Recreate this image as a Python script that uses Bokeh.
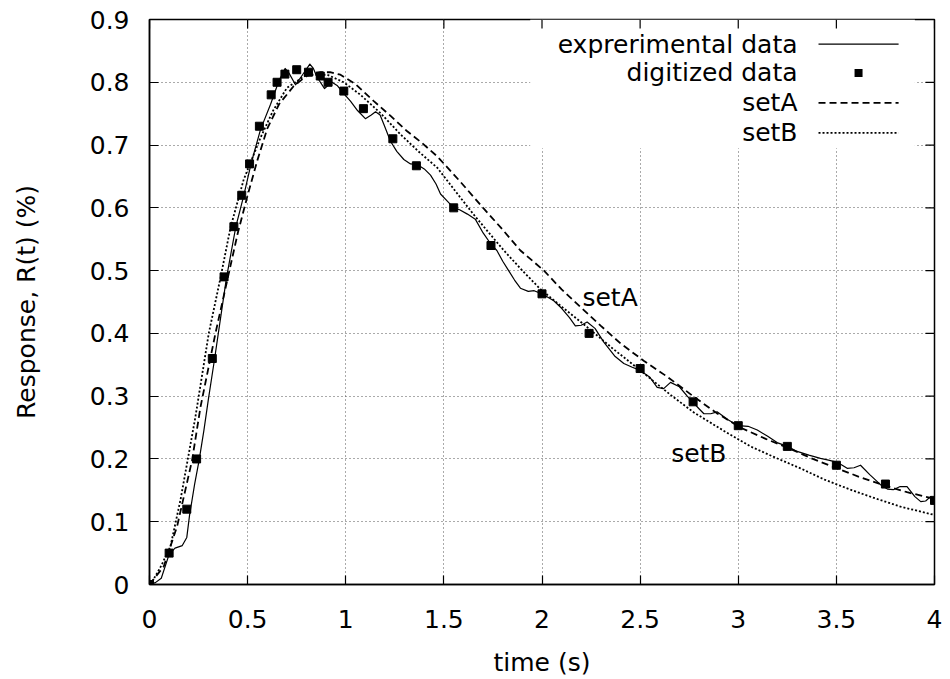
from bokeh.plotting import figure
from bokeh.models import Range1d, Label, BoxAnnotation, Arrow, FixedTicker
from bokeh.embed import file_html
from bokeh.resources import INLINE

# ---------------- data ----------------
x_ticks = [0, 0.5, 1, 1.5, 2, 2.5, 3, 3.5, 4]
x_tick_labels = ["0", "0.5", "1", "1.5", "2", "2.5", "3", "3.5", "4"]
y_ticks = [0, 0.1, 0.2, 0.3, 0.4, 0.5, 0.6, 0.7, 0.8, 0.9]
y_tick_labels = ["0", "0.1", "0.2", "0.3", "0.4", "0.5", "0.6", "0.7", "0.8", "0.9"]

exp_t = [0.00, 0.03, 0.06, 0.10, 0.13, 0.167, 0.19, 0.204, 0.23, 0.253, 0.277, 0.30, 0.331,
         0.36, 0.392, 0.44, 0.48, 0.518, 0.566, 0.617, 0.659, 0.68, 0.691, 0.71, 0.744,
         0.78, 0.817, 0.835, 0.854, 0.892, 0.91, 0.93, 0.956, 0.99, 1.024, 1.06, 1.10, 1.13,
         1.152, 1.175, 1.194, 1.228, 1.26, 1.296, 1.33, 1.364, 1.40, 1.432, 1.46, 1.483, 1.52,
         1.55, 1.58, 1.62, 1.66, 1.70, 1.74, 1.77, 1.80, 1.83, 1.86, 1.89, 1.93, 1.96, 2.00,
         2.06, 2.10, 2.14, 2.17, 2.20, 2.23, 2.27, 2.315, 2.37, 2.417, 2.46, 2.50, 2.55,
         2.587, 2.62, 2.655, 2.70, 2.74, 2.77, 2.80, 2.825, 2.86, 2.892, 2.95, 3.00, 3.05,
         3.097, 3.15, 3.198, 3.25, 3.30, 3.36, 3.419, 3.46, 3.50, 3.53, 3.555, 3.59, 3.623,
         3.67, 3.725, 3.76, 3.79, 3.825, 3.86, 3.90, 3.93, 3.955, 3.98, 4.00]
exp_r = [0.000, 0.003, 0.010, 0.048, 0.058, 0.062, 0.075, 0.110, 0.160, 0.198, 0.245, 0.295,
         0.358, 0.420, 0.488, 0.570, 0.619, 0.671, 0.725, 0.765, 0.802, 0.815, 0.822, 0.815,
         0.796, 0.812, 0.829, 0.822, 0.808, 0.790, 0.795, 0.800, 0.795, 0.782, 0.770, 0.755,
         0.742, 0.748, 0.753, 0.748, 0.733, 0.706, 0.690, 0.677, 0.670, 0.669, 0.662, 0.652,
         0.638, 0.622, 0.610, 0.600, 0.597, 0.590, 0.582, 0.560, 0.542, 0.532, 0.515, 0.500,
         0.485, 0.472, 0.467, 0.468, 0.463, 0.452, 0.440, 0.425, 0.412, 0.413, 0.418, 0.408,
         0.386, 0.364, 0.352, 0.346, 0.341, 0.330, 0.314, 0.312, 0.322, 0.315, 0.300, 0.290,
         0.280, 0.272, 0.272, 0.275, 0.262, 0.253, 0.252, 0.246, 0.236, 0.226, 0.220, 0.212,
         0.206, 0.201, 0.198, 0.195, 0.190, 0.185, 0.186, 0.190, 0.175, 0.159, 0.152, 0.151,
         0.156, 0.156, 0.140, 0.132, 0.133, 0.140, 0.136]

dig_t = [0, 0.10, 0.19, 0.24, 0.32, 0.38, 0.43, 0.47, 0.51, 0.56, 0.62, 0.65, 0.69, 0.75,
         0.81, 0.87, 0.91, 0.99, 1.09, 1.24, 1.36, 1.55, 1.74, 2.00, 2.24, 2.50, 2.77, 3.00,
         3.25, 3.50, 3.75, 4.00]
dig_r = [0, 0.05, 0.12, 0.20, 0.36, 0.49, 0.57, 0.62, 0.67, 0.73, 0.78, 0.80, 0.813, 0.82,
         0.816, 0.81, 0.80, 0.786, 0.758, 0.71, 0.667, 0.60, 0.54, 0.463, 0.40, 0.344, 0.291,
         0.253, 0.22, 0.19, 0.16, 0.134]

setA_t = [0, 0.073, 0.141, 0.217, 0.26, 0.336, 0.40, 0.45, 0.50, 0.55, 0.60, 0.66, 0.735,
          0.80, 0.871, 0.92, 0.973, 1.05, 1.143, 1.23, 1.313, 1.39, 1.466, 1.58, 1.70, 1.80,
          1.89, 2.01, 2.10, 2.196, 2.30, 2.40, 2.52, 2.638, 2.77, 2.89, 3.011, 3.14, 3.266,
          3.38, 3.504, 3.62, 3.742, 3.86, 3.98, 4.00]
setA_r = [0, 0.029, 0.093, 0.198, 0.283, 0.40, 0.49, 0.56, 0.62, 0.676, 0.726, 0.765, 0.794,
          0.810, 0.816, 0.816, 0.812, 0.797, 0.770, 0.746, 0.722, 0.703, 0.682, 0.643, 0.600,
          0.565, 0.532, 0.500, 0.470, 0.442, 0.412, 0.384, 0.356, 0.331, 0.300, 0.273, 0.250,
          0.232, 0.216, 0.200, 0.185, 0.171, 0.158, 0.147, 0.138, 0.136]

setB_t = [0, 0.02, 0.06, 0.107, 0.158, 0.234, 0.302, 0.362, 0.413, 0.48, 0.566, 0.63, 0.70,
          0.80, 0.906, 0.99, 1.075, 1.18, 1.279, 1.37, 1.466, 1.56, 1.65, 1.73, 1.806, 1.90,
          1.99, 2.11, 2.23, 2.36, 2.485, 2.655, 2.774, 2.92, 3.062, 3.19, 3.317, 3.44, 3.572,
          3.70, 3.827, 3.997]
setB_r = [0, 0.008, 0.030, 0.061, 0.135, 0.267, 0.40, 0.489, 0.569, 0.645, 0.712, 0.755, 0.791,
          0.812, 0.812, 0.800, 0.780, 0.750, 0.717, 0.690, 0.664, 0.626, 0.590, 0.560, 0.532,
          0.500, 0.471, 0.440, 0.410, 0.376, 0.345, 0.302, 0.274, 0.246, 0.220, 0.202, 0.185,
          0.167, 0.151, 0.137, 0.124, 0.111]

legend_labels = ["exprerimental data", "digitized data", "setA", "setB"]

FONT = "DejaVu Sans"
FS = "25px"

X0, X1, Y0, Y1 = 0, 4, 0, 0.9
p = figure(width=950, height=679, output_backend="svg", toolbar_location=None,
           x_range=Range1d(X0, X1), y_range=Range1d(Y0, Y1),
           min_border_left=149, min_border_right=16, min_border_top=19, min_border_bottom=94,
           x_axis_label="time (s)", y_axis_label="Response, R(t) (%)")
p.outline_line_color = "black"
p.outline_line_width = 1.5
p.background_fill_color = "white"
p.border_fill_color = "white"

for ax, ticks, labs in ((p.xaxis[0], x_ticks, x_tick_labels), (p.yaxis[0], y_ticks, y_tick_labels)):
    ax.ticker = FixedTicker(ticks=ticks)
    ax.major_label_overrides = {t: l for t, l in zip(ticks, labs)}
    ax.major_tick_in = 9
    ax.major_tick_out = 0
    ax.minor_tick_line_color = None
    ax.major_tick_line_color = "black"
    ax.major_tick_line_width = 1.2
    ax.axis_line_color = "black"
    ax.axis_line_width = 1.5
    ax.major_label_text_font = FONT
    ax.major_label_text_font_size = FS
    ax.major_label_text_color = "black"
    ax.axis_label_text_font = FONT
    ax.axis_label_text_font_size = FS
    ax.axis_label_text_font_style = "normal"
    ax.axis_label_text_color = "black"
p.xaxis.major_label_standoff = 25
p.xaxis.axis_label_standoff = 17
p.yaxis.major_label_standoff = 20
p.yaxis.axis_label_standoff = 46

p.xgrid.ticker = FixedTicker(ticks=x_ticks)
p.ygrid.ticker = FixedTicker(ticks=y_ticks)
for g in (p.xgrid[0], p.ygrid[0]):
    g.grid_line_color = "#555555"
    g.grid_line_dash = "1 3"
    g.grid_line_width = 1

# opaque key box hiding the grid
key_box = BoxAnnotation(left=1.94, right=3.90, bottom=0.695, top=0.9,
                        fill_color="white", fill_alpha=1.0, line_color=None, level="underlay")
p.add_layout(key_box)

# mirrored inward tick marks on the top and right frame edges (derived from the tick lists)
tick_dx = 9 / 196.25 * (X1 - X0) / 4
tick_dy = 9 / 630 * (Y1 - Y0) / 0.9
p.segment(x0=x_ticks, y0=[Y1] * len(x_ticks), x1=x_ticks, y1=[Y1 - tick_dy] * len(x_ticks),
          line_color="black", line_width=1.2)
p.segment(x0=[X1] * len(y_ticks), y0=y_ticks, x1=[X1 - tick_dx] * len(y_ticks), y1=y_ticks,
          line_color="black", line_width=1.2)

p.line(exp_t, exp_r, line_color="black", line_width=1.2, line_join="round")
p.line(setA_t, setA_r, line_color="black", line_width=1.8, line_dash="7 4")
p.line(setB_t, setB_r, line_color="black", line_width=1.8, line_dash="2 2")
p.scatter(dig_t, dig_r, marker="square", size=8, fill_color="black", line_color="black")

# key (gnuplot style: text right-aligned, sample on the right)
rows_y = [0.8608, 0.8148, 0.7671, 0.7195]
for lab, yy in zip(legend_labels, rows_y):
    p.add_layout(Label(x=3.302, y=yy, text=lab, text_align="right", text_baseline="middle",
                       text_font=FONT, text_font_size=FS, text_color="black"))
p.add_layout(Arrow(x_start=3.409, y_start=rows_y[0], x_end=3.817, y_end=rows_y[0], end=None,
                   line_color="black", line_width=1.2))
half_w = 4 / 196.25
half_h = 4 / 630
p.add_layout(BoxAnnotation(left=3.613 - half_w, right=3.613 + half_w,
                           bottom=rows_y[1] - half_h, top=rows_y[1] + half_h,
                           fill_color="black", fill_alpha=1.0, line_color=None))
p.add_layout(Arrow(x_start=3.409, y_start=rows_y[2], x_end=3.817, y_end=rows_y[2], end=None,
                   line_color="black", line_width=1.8, line_dash="7 4"))
p.add_layout(Arrow(x_start=3.409, y_start=rows_y[3], x_end=3.817, y_end=rows_y[3], end=None,
                   line_color="black", line_width=1.8, line_dash="2 2"))

# curve annotations
p.add_layout(Label(x=2.206, y=0.457, text="setA", text_baseline="middle",
                   text_font=FONT, text_font_size=FS, text_color="black"))
p.add_layout(Label(x=2.658, y=0.208, text="setB", text_baseline="middle",
                   text_font=FONT, text_font_size=FS, text_color="black"))

open("out.html", "w").write(file_html(p, INLINE))
